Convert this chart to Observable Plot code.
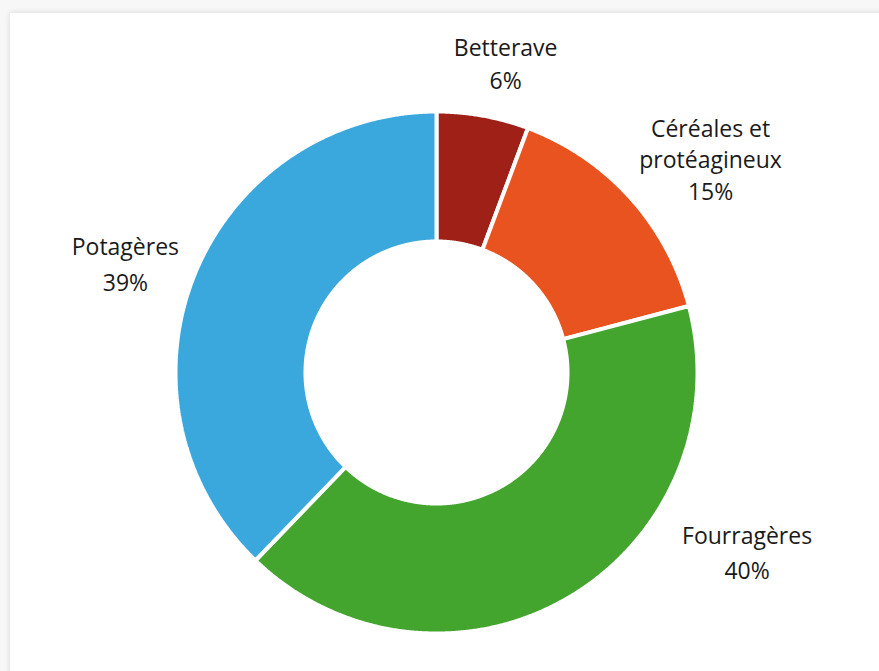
<!DOCTYPE html>
<html><head><meta charset="utf-8">
<script src="https://cdn.jsdelivr.net/npm/d3@7"></script>
<script src="https://cdn.jsdelivr.net/npm/@observablehq/plot@0.6"></script>
<style>
html,body{margin:0;padding:0;background:#f7f7f7;overflow:hidden;width:879px;height:671px}
#card{position:absolute;left:10px;top:13px;width:900px;height:700px;background:#fff;box-shadow:0 0 6px rgba(0,0,0,0.14)}
#chart{position:absolute;left:0;top:0}
</style></head><body><div id="card"></div><div id="chart"></div>
<script>
// Data
const categories = ["Betterave", "Céréales et\nprotéagineux", "Fourragères", "Potagères"];
const values = [5.7, 15.2, 41.3, 37.8];
const pctLabels = ["6%", "15%", "40%", "39%"];
const colors = ["#9e2016", "#e8531f", "#43a52e", "#3aa8dc"];

// Layout (units: outer radius = 100)
const R = 100, rIn = 50.2;
const labelLayout = [
  {x: 26.5, yName: 121.2, yPct: 108.5, lh: 1.43},
  {x: 105, yName: 78.3, yPct: 66.2, lh: 1.37},
  {x: 119, yName: -65.8, yPct: -79.2, lh: 1.5},
  {x: -119.2, yName: 45, yPct: 31.2, lh: 1.5}
];

const pie = d3.pie().sort(null).value(d => d)(values);
const pts = [];
pie.forEach((p, i) => {
  const n = Math.max(8, Math.ceil((p.endAngle - p.startAngle) / 0.005));
  for (let k = 0; k <= n; k++) {
    const a = p.startAngle + (p.endAngle - p.startAngle) * k / n;
    pts.push({cat: categories[i], x: R * Math.sin(a), y: R * Math.cos(a)});
  }
  for (let k = n; k >= 0; k--) {
    const a = p.startAngle + (p.endAngle - p.startAngle) * k / n;
    pts.push({cat: categories[i], x: rIn * Math.sin(a), y: rIn * Math.cos(a)});
  }
});

const labels = categories.map((c, i) => ({name: c, pct: pctLabels[i], ...labelLayout[i]}));
const font = {fontFamily: "'Open Sans', sans-serif", fontSize: 23, fill: "#1a1a1a"};

const chart = Plot.plot({
  width: 879, height: 671,
  marginLeft: 175, marginRight: 182, marginTop: 111, marginBottom: 38,
  x: {domain: [-R, R], axis: null},
  y: {domain: [-R, R], axis: null},
  color: {domain: categories, range: colors},
  style: {background: "transparent", overflow: "visible"},
  marks: [
    Plot.line(pts, {x: "x", y: "y", z: "cat", fill: "cat", stroke: "white", strokeWidth: 4, strokeLinejoin: "miter", curve: "linear-closed"}),
    ...labels.map(l => Plot.text([l], {x: "x", y: "yName", text: "name", lineAnchor: "bottom", lineHeight: l.lh, ...font})),
    Plot.text(labels, {x: "x", y: "yPct", text: "pct", lineAnchor: "bottom", ...font})
  ]
});
document.getElementById("chart").appendChild(chart);
</script></body></html>
